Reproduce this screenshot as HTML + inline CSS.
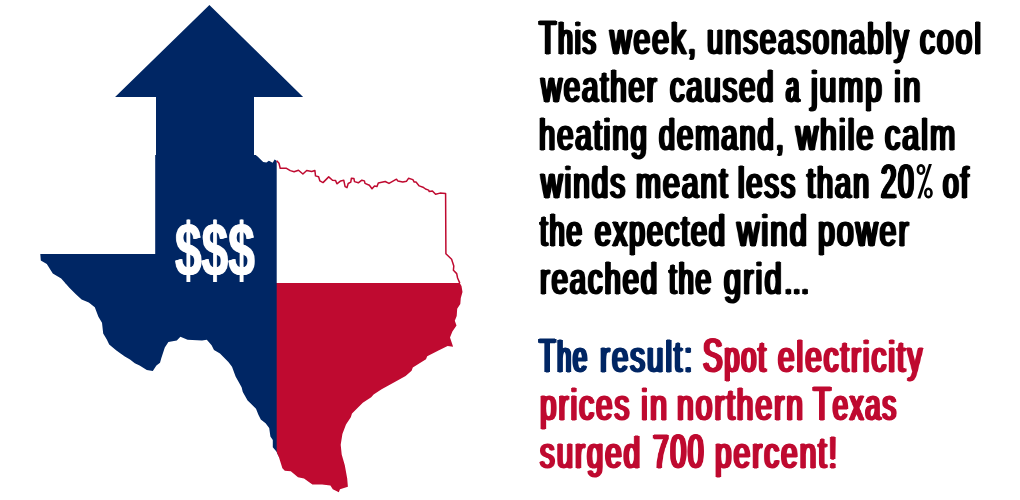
<!DOCTYPE html>
<html><head><meta charset="utf-8"><title>Texas electricity prices</title>
<style>
html,body{margin:0;padding:0;background:#fff;}
body{width:1020px;height:500px;position:relative;overflow:hidden;font-family:"Liberation Sans",sans-serif;}
svg{position:absolute;left:0;top:0;}
.t{position:absolute;left:538px;white-space:pre;font-weight:normal;-webkit-text-stroke:1.2px currentColor;font-size:45.0px;line-height:48px;height:48px;transform-origin:0 0;letter-spacing:3.2px;will-change:transform;text-shadow:1.7px 0 0 currentColor,-1.7px 0 0 currentColor;}
.c{font-size:1.075em;line-height:0;}
.k{color:#000;} .n{color:#002664;} .r{color:#bf0a30;}
.d{position:absolute;white-space:nowrap;font-weight:bold;color:#fff;transform-origin:0 0;will-change:transform;text-shadow:1px 0 0 #fff,-1px 0 0 #fff;}
</style></head><body>
<svg width="1020" height="500" viewBox="0 0 1020 500">
<defs><clipPath id="tx"><polygon points="253.8,154.9 255.7,154.9 257.6,156.4 263.2,162.0 266.4,162.4 268.9,160.8 272.7,162.7 274.6,159.5 276.7,160.8 279.0,163.3 280.2,168.3 286.5,168.3 290.3,170.6 294.1,171.7 298.5,170.2 302.9,174.0 306.7,170.5 311.7,171.5 314.9,170.5 315.5,175.9 318.6,176.8 319.9,180.9 323.0,182.6 328.7,176.9 332.5,180.3 335.6,180.6 336.9,183.8 340.7,180.9 343.8,180.3 345.1,186.6 347.0,187.6 348.2,183.5 350.8,182.2 351.4,178.2 353.9,178.4 354.5,181.6 358.3,182.8 361.5,180.3 361.9,180.2 364.4,180.9 365.0,183.4 369.4,185.3 372.0,188.8 374.5,185.9 377.0,186.5 378.3,183.0 385.2,181.5 389.0,183.4 396.5,179.2 397.8,180.9 402.8,182.1 406.6,181.2 408.5,178.3 412.9,179.6 414.2,182.1 416.0,182.1 419.2,185.9 423.0,187.2 425.5,189.0 428.6,190.1 429.3,191.6 432.4,190.9 435.6,194.3 440.0,193.1 445.6,193.5 445.9,253.8 451.6,259.3 453.8,265.9 453.4,270.3 456.7,273.6 457.6,278.0 459.8,283.1 461.5,286.0 462.5,292.0 460.8,298.0 460.3,304.0 457.2,308.8 456.7,316.0 454.8,320.8 456.5,325.6 452.4,331.6 450.0,337.6 453.1,346.7 447.6,346.0 438.0,350.8 427.2,356.3 426.0,359.2 412.8,367.6 411.6,370.7 405.6,376.0 394.8,382.0 381.6,389.2 373.6,394.4 371.2,397.3 362.8,402.8 352.0,413.6 350.8,417.2 346.0,424.4 342.4,434.0 340.7,444.8 341.7,454.4 344.8,465.2 347.2,478.4 347.9,486.8 340.0,489.2 338.8,492.3 332.8,489.2 330.4,485.6 322.0,484.4 312.4,484.4 304.0,478.4 298.0,477.2 290.8,471.2 284.8,470.7 282.4,468.3 278.8,456.8 276.4,451.5 272.8,447.2 272.8,440.0 270.4,436.4 269.2,428.0 265.6,423.2 260.8,419.6 258.4,414.8 256.0,408.8 250.0,402.8 247.6,400.4 242.8,392.0 241.6,387.2 235.6,376.4 232.0,366.8 228.4,362.0 220.0,353.6 214.0,350.0 211.6,345.2 206.8,339.7 202.0,340.4 187.6,339.7 180.4,336.8 176.8,340.4 168.4,342.1 164.8,347.6 161.2,358.4 160.0,362.7 156.4,365.6 152.8,370.9 146.8,369.9 139.6,365.6 134.8,363.2 130.0,359.6 124.8,356.4 116.4,350.4 109.2,344.4 106.8,339.6 103.2,333.6 102.0,322.8 98.4,316.8 94.8,307.2 88.8,302.4 81.6,299.5 75.6,294.0 69.6,288.0 61.2,278.4 52.8,273.6 46.8,264.0 40.8,260.4 40.3,254.1 155.2,254.1 155.2,154.9"/></clipPath></defs>
<g clip-path="url(#tx)">
<rect x="0" y="100" width="276.7" height="183.5" fill="#002664"/>
<rect x="0" y="283" width="278.7" height="217" fill="#002664"/>
<rect x="276.7" y="283.0" width="300" height="300" fill="#bf0a30"/>
</g>
<polyline points="276.7,160.8 279.0,163.3 280.2,168.3 286.5,168.3 290.3,170.6 294.1,171.7 298.5,170.2 302.9,174.0 306.7,170.5 311.7,171.5 314.9,170.5 315.5,175.9 318.6,176.8 319.9,180.9 323.0,182.6 328.7,176.9 332.5,180.3 335.6,180.6 336.9,183.8 340.7,180.9 343.8,180.3 345.1,186.6 347.0,187.6 348.2,183.5 350.8,182.2 351.4,178.2 353.9,178.4 354.5,181.6 358.3,182.8 361.5,180.3 361.9,180.2 364.4,180.9 365.0,183.4 369.4,185.3 372.0,188.8 374.5,185.9 377.0,186.5 378.3,183.0 385.2,181.5 389.0,183.4 396.5,179.2 397.8,180.9 402.8,182.1 406.6,181.2 408.5,178.3 412.9,179.6 414.2,182.1 416.0,182.1 419.2,185.9 423.0,187.2 425.5,189.0 428.6,190.1 429.3,191.6 432.4,190.9 435.6,194.3 440.0,193.1 445.6,193.5 445.9,253.8 451.6,259.3 453.8,265.9 453.4,270.3 456.7,273.6 457.6,278.0 459.8,283.1" fill="none" stroke="#bf0a30" stroke-width="1.5" stroke-linejoin="round"/>
<polygon points="209.4,5 303.1,96.9 254.0,96.9 254.0,170 156.0,170 156.0,96.9 115.1,96.9" fill="#002664"/>
<g id="pct" fill="none" stroke="#000" stroke-width="2.6">
<ellipse cx="921.0" cy="169.6" rx="3.1" ry="4.2"/>
<ellipse cx="928.4" cy="192.9" rx="3.1" ry="4.2"/>
<polygon points="928.9,164.1 931.9,164.1 920.4,198.4 917.4,198.4" fill="#000" stroke="none"/>
</g>
</svg>
<div class="d" id="dol" style="left:175.2px;top:210.3px;font-size:75.7px;line-height:80px;transform:scaleX(0.6313);">$$$</div>
<div class="t k" style="left:539.47px;top:15px;transform:scaleX(0.5864);text-shadow:2.75px 0 0 currentColor,-2.75px 0 0 currentColor;"><span class="c">T</span>his</div>
<div class="t k" style="left:609.76px;top:15px;transform:scaleX(0.6607);text-shadow:2.25px 0 0 currentColor,-2.25px 0 0 currentColor;">week,</div>
<div class="t k" style="left:706.56px;top:15px;transform:scaleX(0.6439);text-shadow:2.36px 0 0 currentColor,-2.36px 0 0 currentColor;">unseasonably</div>
<div class="t k" style="left:920.20px;top:15px;transform:scaleX(0.6607);text-shadow:2.25px 0 0 currentColor,-2.25px 0 0 currentColor;">cool</div>
<div class="t k" style="left:540.92px;top:63px;transform:scaleX(0.6435);text-shadow:2.36px 0 0 currentColor,-2.36px 0 0 currentColor;">weather</div>
<div class="t k" style="left:669.70px;top:63px;transform:scaleX(0.6415);text-shadow:2.37px 0 0 currentColor,-2.37px 0 0 currentColor;">caused</div>
<div class="t k" style="left:785.68px;top:63px;transform:scaleX(0.5258);text-shadow:3.26px 0 0 currentColor,-3.26px 0 0 currentColor;">a</div>
<div class="t k" style="left:811.01px;top:63px;transform:scaleX(0.6607);text-shadow:2.25px 0 0 currentColor,-2.25px 0 0 currentColor;">jump</div>
<div class="t k" style="left:894.37px;top:63px;transform:scaleX(0.6924);text-shadow:2.08px 0 0 currentColor,-2.08px 0 0 currentColor;">in</div>
<div class="t k" style="left:539.46px;top:111px;transform:scaleX(0.6461);text-shadow:2.34px 0 0 currentColor,-2.34px 0 0 currentColor;">heating</div>
<div class="t k" style="left:659.01px;top:111px;transform:scaleX(0.6423);text-shadow:2.37px 0 0 currentColor,-2.37px 0 0 currentColor;">demand,</div>
<div class="t k" style="left:795.98px;top:111px;transform:scaleX(0.6707);text-shadow:2.2px 0 0 currentColor,-2.2px 0 0 currentColor;">while</div>
<div class="t k" style="left:885.21px;top:111px;transform:scaleX(0.6706);text-shadow:2.2px 0 0 currentColor,-2.2px 0 0 currentColor;">calm</div>
<div class="t k" style="left:540.95px;top:159px;transform:scaleX(0.6583);text-shadow:2.27px 0 0 currentColor,-2.27px 0 0 currentColor;">winds</div>
<div class="t k" style="left:635.80px;top:159px;transform:scaleX(0.6641);text-shadow:2.23px 0 0 currentColor,-2.23px 0 0 currentColor;">meant</div>
<div class="t k" style="left:737.74px;top:159px;transform:scaleX(0.6377);text-shadow:2.4px 0 0 currentColor,-2.4px 0 0 currentColor;">less</div>
<div class="t k" style="left:807.00px;top:159px;transform:scaleX(0.6389);text-shadow:2.39px 0 0 currentColor,-2.39px 0 0 currentColor;">than</div>
<div class="t k" style="left:881.48px;top:159px;transform:scaleX(0.5728);text-shadow:2.85px 0 0 currentColor,-2.85px 0 0 currentColor;"><span class="c">20</span></div>
<div class="t k" style="left:943.03px;top:159px;transform:scaleX(0.6258);text-shadow:2.45px 0 0 currentColor,-2.45px 0 0 currentColor;">of</div>
<div class="t k" style="left:540.04px;top:207px;transform:scaleX(0.6064);text-shadow:2.6px 0 0 currentColor,-2.6px 0 0 currentColor;">the</div>
<div class="t k" style="left:595.14px;top:207px;transform:scaleX(0.6334);text-shadow:2.42px 0 0 currentColor,-2.42px 0 0 currentColor;">expected</div>
<div class="t k" style="left:736.93px;top:207px;transform:scaleX(0.6839);text-shadow:2.12px 0 0 currentColor,-2.12px 0 0 currentColor;">wind</div>
<div class="t k" style="left:818.34px;top:207px;transform:scaleX(0.6687);text-shadow:2.21px 0 0 currentColor,-2.21px 0 0 currentColor;">power</div>
<div class="t k" style="left:539.52px;top:255px;transform:scaleX(0.6436);text-shadow:2.36px 0 0 currentColor,-2.36px 0 0 currentColor;">reached</div>
<div class="t k" style="left:669.24px;top:255px;transform:scaleX(0.6078);text-shadow:2.59px 0 0 currentColor,-2.59px 0 0 currentColor;">the</div>
<div class="t k" style="left:724.03px;top:255px;transform:scaleX(0.6810);text-shadow:2.14px 0 0 currentColor,-2.14px 0 0 currentColor;">grid</div>
<div class="t k" style="left:785.06px;top:255px;transform:scaleX(0.5322);text-shadow:3.2px 0 0 currentColor,-3.2px 0 0 currentColor;">...</div>
<div class="t n" style="left:539.41px;top:333px;transform:scaleX(0.5573);text-shadow:2.98px 0 0 currentColor,-2.98px 0 0 currentColor;"><span class="c">T</span>he</div>
<div class="t n" style="left:600.01px;top:333px;transform:scaleX(0.6515);text-shadow:2.31px 0 0 currentColor,-2.31px 0 0 currentColor;">result:</div>
<div class="t r" style="left:703.11px;top:333px;transform:scaleX(0.6015);text-shadow:2.64px 0 0 currentColor,-2.64px 0 0 currentColor;"><span class="c">S</span>pot</div>
<div class="t r" style="left:777.71px;top:333px;transform:scaleX(0.6567);text-shadow:2.28px 0 0 currentColor,-2.28px 0 0 currentColor;">electricity</div>
<div class="t r" style="left:539.55px;top:381px;transform:scaleX(0.6564);text-shadow:2.28px 0 0 currentColor,-2.28px 0 0 currentColor;">prices</div>
<div class="t r" style="left:640.68px;top:381px;transform:scaleX(0.6842);text-shadow:2.12px 0 0 currentColor,-2.12px 0 0 currentColor;">in</div>
<div class="t r" style="left:677.00px;top:381px;transform:scaleX(0.6625);text-shadow:2.24px 0 0 currentColor,-2.24px 0 0 currentColor;">northern</div>
<div class="t r" style="left:813.35px;top:381px;transform:scaleX(0.6043);text-shadow:2.62px 0 0 currentColor,-2.62px 0 0 currentColor;"><span class="c">T</span>exas</div>
<div class="t r" style="left:540.09px;top:429px;transform:scaleX(0.6506);text-shadow:2.32px 0 0 currentColor,-2.32px 0 0 currentColor;">surged</div>
<div class="t r" style="left:652.55px;top:429px;transform:scaleX(0.5790);text-shadow:2.81px 0 0 currentColor,-2.81px 0 0 currentColor;"><span class="c">700</span></div>
<div class="t r" style="left:715.25px;top:429px;transform:scaleX(0.6588);text-shadow:2.27px 0 0 currentColor,-2.27px 0 0 currentColor;">percent!</div>
</body></html>
